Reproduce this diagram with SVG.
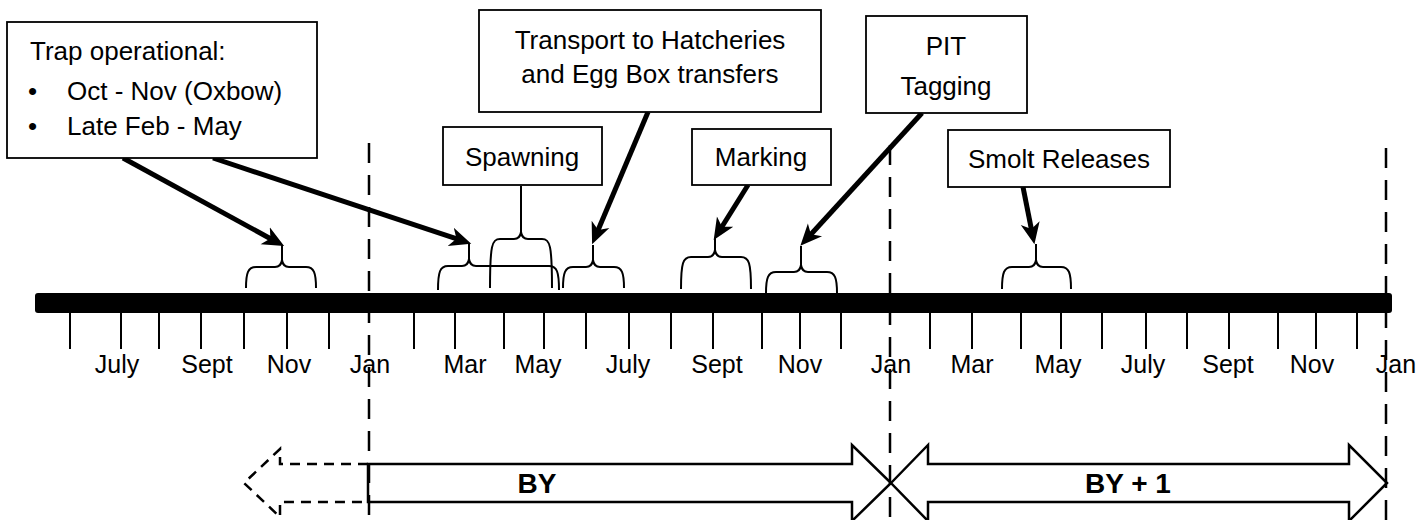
<svg xmlns="http://www.w3.org/2000/svg" width="1416" height="520" viewBox="0 0 1416 520">
<style>
text{font-family:"Liberation Sans",Arial,sans-serif;fill:#000}
.box{fill:#fff;stroke:#000;stroke-width:1.8}
.lbl{font-size:26px;text-anchor:middle}
.btxt{font-size:26px}
.mon{font-size:25px;text-anchor:middle}
.tick{stroke:#000;stroke-width:2}
.brace{fill:none;stroke:#000;stroke-width:2}
.conn{stroke:#000;stroke-width:5;fill:none;marker-end:url(#ah)}
.vdash{stroke:#000;stroke-width:2.5;stroke-dasharray:20 12;fill:none}
.big{fill:#fff;stroke:#000;stroke-width:2.5}
.bold{font-size:28px;font-weight:bold;text-anchor:middle}
</style>
<defs>
<marker id="ah" markerUnits="userSpaceOnUse" markerWidth="24" markerHeight="24" viewBox="0 -10 20 20" refX="6" refY="0" orient="auto">
<path d="M0,-8 L18,0 L0,8 L5,0 Z" fill="#000"/>
</marker>
</defs>
<rect width="1416" height="520" fill="#fff"/>

<g id="timeline">
<rect x="35" y="293" width="1357" height="20" rx="3" fill="#000"/>
<g id="ticks">
<path class="tick" d="M70,313V349M121,313V349M159,313V349M201,313V349M244,313V349M287,313V349M329,313V349M414,313V349M455,313V349M504,313V349M544,313V349M586,313V349M629,313V349M671,313V349M713,313V349M762,313V349M800,313V349M841,313V349M930,313V349M972,313V349M1021,313V349M1061,313V349M1102,313V349M1146,313V349M1187,313V349M1229,313V349M1278,313V349M1316,313V349M1357,313V349"/>
</g>
<g id="months">
<text class="mon" x="117" y="373">July</text>
<text class="mon" x="207" y="373">Sept</text>
<text class="mon" x="289" y="373">Nov</text>
<text class="mon" x="370" y="373">Jan</text>
<text class="mon" x="465" y="373">Mar</text>
<text class="mon" x="538" y="373">May</text>
<text class="mon" x="628" y="373">July</text>
<text class="mon" x="717" y="373">Sept</text>
<text class="mon" x="800" y="373">Nov</text>
<text class="mon" x="891" y="373">Jan</text>
<text class="mon" x="972" y="373">Mar</text>
<text class="mon" x="1058" y="373">May</text>
<text class="mon" x="1143" y="373">July</text>
<text class="mon" x="1228" y="373">Sept</text>
<text class="mon" x="1312" y="373">Nov</text>
<text class="mon" x="1396" y="373">Jan</text>
</g>
</g>

<g id="braces">
<path class="brace" d="M246,288 C246,273 248,267 256,267 L275,267 Q281,267 282,260 L282,245 M282,260 Q283,267 289,267 L306,267 C314,267 316,273 316,288"/>
<path class="brace" d="M438,290 C438,272 440,266 448,266 L462,266 Q468,266 469,259 L469,243 M469,259 Q470,266 476,266 L549,266 C557,266 559,272 559,290"/>
<path class="brace" d="M490,288 C490,245 492,239 500,239 L514,239 Q520,239 521,232 L521,186 M521,232 Q522,239 528,239 L542,239 C550,239 552,245 552,288"/>
<path class="brace" d="M563,288 C563,273 565,267 573,267 L586,267 Q592,267 593,260 L593,245 M593,260 Q594,267 600,267 L614,267 C622,267 624,273 624,288"/>
<path class="brace" d="M681,289 C681,263 683,257 691,257 L708,257 Q714,257 715,250 L715,238 M715,250 Q716,257 722,257 L741,257 C749,257 751,263 751,289"/>
<path class="brace" d="M766,293 C766,278 768,272 776,272 L794,272 Q800,272 801,265 L801,246 M801,265 Q802,272 808,272 L827,272 C835,272 837,278 837,293"/>
<path class="brace" d="M1002,289 C1002,273 1004,267 1012,267 L1029,267 Q1035,267 1036,260 L1036,244 M1036,260 Q1037,267 1043,267 L1061,267 C1069,267 1071,273 1071,289"/>
</g>

<g id="connectors">
<line class="conn" x1="123" y1="158" x2="271.5" y2="239.2"/>
<line class="conn" x1="213" y1="158" x2="457.6" y2="239.2"/>
<line class="conn" x1="648" y1="112" x2="597.7" y2="231"/>
<line class="conn" x1="748" y1="185" x2="721.3" y2="227.8"/>
<line class="conn" x1="922" y1="113" x2="810.1" y2="235.2"/>
<line class="conn" x1="1023" y1="187" x2="1031.6" y2="230.2"/>
</g>

<g id="trap">
<rect class="box" x="7" y="22" width="310" height="136"/>
<text class="btxt" x="30" y="60">Trap operational:</text>
<text class="btxt" x="28" y="100">•</text>
<text class="btxt" x="67" y="100">Oct - Nov (Oxbow)</text>
<text class="btxt" x="28" y="135">•</text>
<text class="btxt" x="67" y="135">Late Feb - May</text>
</g>
<g id="spawning">
<rect class="box" x="443" y="127" width="159" height="58"/>
<text class="lbl" x="522" y="166">Spawning</text>
</g>
<g id="transport">
<rect class="box" x="479" y="10" width="342" height="102"/>
<text class="lbl" x="650" y="49">Transport to Hatcheries</text>
<text class="lbl" x="650" y="83">and Egg Box transfers</text>
</g>
<g id="marking">
<rect class="box" x="692" y="129" width="139" height="56"/>
<text class="lbl" x="761" y="166">Marking</text>
</g>
<g id="pit">
<rect class="box" x="866" y="16" width="161" height="97"/>
<text class="lbl" x="946" y="55">PIT</text>
<text class="lbl" x="946" y="95">Tagging</text>
</g>
<g id="smolt">
<rect class="box" x="948" y="130" width="222" height="57"/>
<text class="lbl" x="1059" y="168">Smolt Releases</text>
</g>

<g id="years">
<path d="M368,464 L280,464 L280,449 L244,483 L280,517 L280,502 L368,502" fill="#fff" stroke="#000" stroke-width="2.5" stroke-dasharray="10 7"/>
<path class="big" d="M368,464 L852,464 L852,445 L891,483 L852,521 L852,502 L368,502 Z"/>
<path class="big" d="M891,483 L928,445 L928,464 L1349,464 L1349,445 L1387,483 L1349,521 L1349,502 L928,502 L928,521 Z"/>
<text class="bold" x="537" y="493">BY</text>
<text class="bold" x="1128" y="493">BY + 1</text>
</g>

<g id="year-dividers">
<line class="vdash" x1="369" y1="143" x2="369" y2="520"/>
<line class="vdash" x1="890" y1="145" x2="890" y2="520"/>
<line class="vdash" x1="1386" y1="148" x2="1386" y2="520"/>
</g>
</svg>
